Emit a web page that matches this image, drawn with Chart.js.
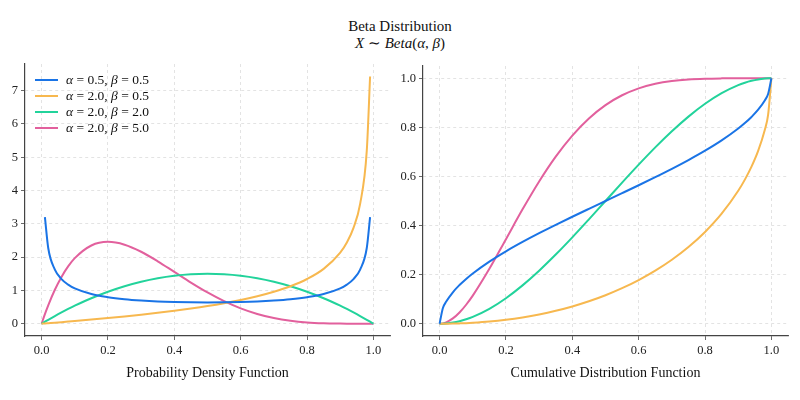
<!DOCTYPE html>
<html>
<head>
<meta charset="utf-8">
<script src="https://cdn.jsdelivr.net/npm/chart.js@4"></script>
<style>
  body { margin: 0; width: 800px; height: 400px; position: relative; background: #fff; overflow: hidden; font-family: "Liberation Serif", serif; color: #111; }
  canvas { position: absolute; top: 0; }
  #pdf { left: 0; }
  #cdf { left: 400px; }
  #title { position: absolute; top: 18px; left: 0; width: 800px; text-align: center; font-size: 15px; line-height: 17px; }
  #title i { font-style: italic; }
  #legend { position: absolute; left: 35px; top: 72px; font-size: 13.5px; line-height: 16px; }
  #legend .sw { display: inline-block; width: 23px; height: 2px; vertical-align: middle; margin-right: 8px; position: relative; top: -1px; }
</style>
</head>
<body>
<div id="title">Beta Distribution<br><i>X</i> ∼ <i>Beta</i>(<i>α</i>, <i>β</i>)</div>
<canvas id="pdf" width="400" height="400"></canvas>
<canvas id="cdf" width="400" height="400"></canvas>
<div id="legend"></div>
<script>
// values
const xs = [0, 0.01, 0.02, 0.04, 0.06, 0.08, 0.1, 0.15, 0.2, 0.25, 0.3, 0.35, 0.4, 0.45, 0.5,
  0.55, 0.6, 0.65, 0.7, 0.75, 0.8, 0.85, 0.9, 0.92, 0.94, 0.96, 0.98, 0.99, 1];

const labels = ["α = 0.5, β = 0.5", "α = 2.0, β = 0.5", "α = 2.0, β = 2.0", "α = 2.0, β = 5.0"];
const colors = ["#1a74e6", "#f7b84f", "#22d39b", "#e2609d"];

const pdfA = [null, 3.199, 2.274, 1.624, 1.340, 1.173, 1.061, 0.891, 0.796, 0.735, 0.695, 0.667, 0.650, 0.640, 0.637,
  0.640, 0.650, 0.667, 0.695, 0.735, 0.796, 0.891, 1.061, 1.173, 1.340, 1.624, 2.274, 3.199, null];
const pdfB = [0, 0.0075, 0.0152, 0.0306, 0.0464, 0.0626, 0.0791, 0.122, 0.168, 0.217, 0.269, 0.326, 0.387, 0.455, 0.530,
  0.615, 0.712, 0.824, 0.959, 1.125, 1.342, 1.646, 2.135, 2.440, 2.878, 3.600, 5.197, 7.425, null];
const pdfC = [0, 0.0594, 0.1176, 0.2304, 0.3384, 0.4416, 0.54, 0.765, 0.96, 1.125, 1.26, 1.365, 1.44, 1.485, 1.5,
  1.485, 1.44, 1.365, 1.26, 1.125, 0.96, 0.765, 0.54, 0.4416, 0.3384, 0.2304, 0.1176, 0.0594, 0];
const pdfD = [0, 0.288, 0.553, 1.019, 1.405, 1.719, 1.968, 2.349, 2.458, 2.373, 2.161, 1.874, 1.555, 1.235, 0.938,
  0.677, 0.461, 0.293, 0.170, 0.088, 0.038, 0.013, 0.003, 0.001, 0.0004, 0.0001, 0, 0, 0];

const cdfA = [0, 0.0638, 0.0903, 0.1282, 0.1575, 0.1826, 0.2048, 0.2532, 0.2952, 0.3333, 0.3690, 0.4030, 0.4359, 0.4681, 0.5,
  0.5319, 0.5641, 0.5970, 0.6310, 0.6667, 0.7048, 0.7468, 0.7952, 0.8174, 0.8425, 0.8718, 0.9097, 0.9362, 1];
const cdfB = [0, 0, 0.0002, 0.0006, 0.0014, 0.0024, 0.0039, 0.0089, 0.0161, 0.0257, 0.0378, 0.0527, 0.0705, 0.0915, 0.1161,
  0.1447, 0.1778, 0.2161, 0.2606, 0.3125, 0.3739, 0.4481, 0.5415, 0.5871, 0.6399, 0.704, 0.7893, 0.8505, 1];
const cdfC = [0, 0.0003, 0.0012, 0.0047, 0.0104, 0.0182, 0.028, 0.0608, 0.104, 0.1563, 0.216, 0.2818, 0.352, 0.4253, 0.5,
  0.5748, 0.648, 0.7183, 0.784, 0.8438, 0.896, 0.9393, 0.972, 0.9818, 0.9896, 0.9953, 0.9988, 0.9997, 1];
const cdfD = [0, 0.0015, 0.0057, 0.0216, 0.0459, 0.0773, 0.1143, 0.2235, 0.3446, 0.4661, 0.5798, 0.6809, 0.7667, 0.8364, 0.8906,
  0.9308, 0.959, 0.9777, 0.9891, 0.9954, 0.9984, 0.9996, 0.99995, 1, 1, 1, 1, 1, 1];

const xTicks = [0, 0.2, 0.4, 0.6, 0.8, 1.0];
const pdfTicks = [0, 1, 2, 3, 4, 5, 6, 7];
const cdfTicks = [0, 0.2, 0.4, 0.6, 0.8, 1.0];

const serif = "'Liberation Serif', 'DejaVu Serif', serif";
Chart.defaults.font.family = serif;

function series(ys) {
  return ys.map((y, i) => ({ x: xs[i], y: y }));
}

function makeChart(id, data, yMin, yMax, yTicks, yFmt, title, yWidth, padTop, padRight) {
  new Chart(document.getElementById(id), {
    type: "line",
    data: {
      datasets: data.map((d, i) => ({
        label: labels[i],
        data: series(d),
        borderColor: colors[i],
        borderWidth: 2,
        pointRadius: 0,
        fill: false,
        cubicInterpolationMode: "monotone",
      })),
    },
    options: {
      responsive: false,
      animation: false,
      layout: { padding: { top: padTop, right: padRight, bottom: 14, left: 0 } },
      plugins: { legend: { display: false }, tooltip: { enabled: false } },
      scales: {
        x: {
          type: "linear",
          min: -0.05,
          max: 1.05,
          afterBuildTicks: (s) => { s.ticks = xTicks.map((v) => ({ value: v })); },
          afterFit: (s) => { s.height = 50; },
          ticks: { callback: (v) => v.toFixed(1), color: "#222", font: { family: serif, size: 12.5 }, padding: 3, maxRotation: 0 },
          grid: { color: "#dcdcdc", tickColor: "#444", tickLength: 4, tickBorderDash: [], lineWidth: 0.8 },
          border: { color: "#444", width: 1.2, dash: [3, 3] },
          title: { display: true, text: title, color: "#111", font: { family: serif, size: 14 }, padding: { top: 4, bottom: 4 } },
        },
        y: {
          min: yMin,
          max: yMax,
          afterBuildTicks: (s) => { s.ticks = yTicks.map((v) => ({ value: v })); },
          afterFit: (s) => { s.width = yWidth; },
          ticks: { callback: yFmt, color: "#222", font: { family: serif, size: 12.5 }, padding: 3 },
          grid: { color: "#dcdcdc", tickColor: "#444", tickLength: 4, tickBorderDash: [], lineWidth: 0.8 },
          border: { color: "#444", width: 1.2, dash: [3, 3] },
        },
      },
    },
  });
}

makeChart("pdf", [pdfA, pdfB, pdfC, pdfD], -0.37, 7.8, pdfTicks, (v) => String(v),
  "Probability Density Function", 25, 64, 10);
makeChart("cdf", [cdfA, cdfB, cdfC, cdfD], -0.05, 1.05, cdfTicks, (v) => v.toFixed(1),
  "Cumulative Distribution Function", 23, 66, 12);

// legend inside the left plot
const legend = document.getElementById("legend");
labels.forEach((t, i) => {
  const row = document.createElement("div");
  const sw = document.createElement("span");
  sw.className = "sw";
  sw.style.background = colors[i];
  row.appendChild(sw);
  const txt = document.createElement("span");
  txt.innerHTML = t.replace(/α/, "<i>α</i>").replace(/β/, "<i>β</i>");
  row.appendChild(txt);
  legend.appendChild(row);
});
</script>
</body>
</html>
